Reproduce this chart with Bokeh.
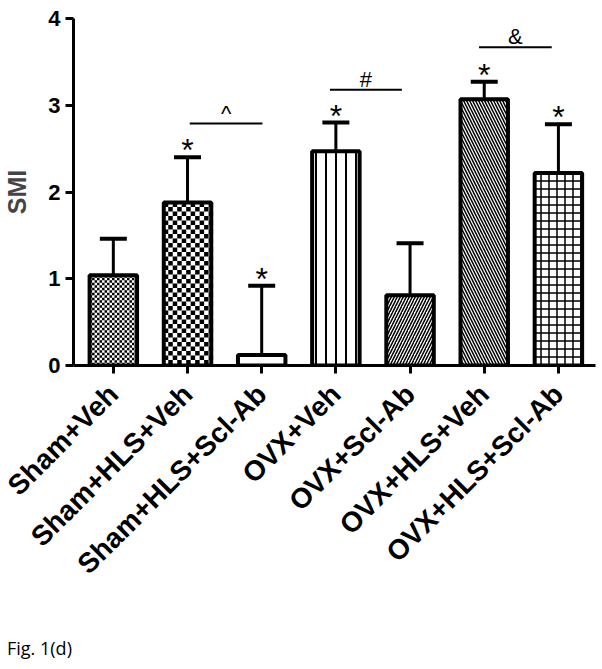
import math
from bokeh.plotting import figure
from bokeh.layouts import column
from bokeh.models import (ColumnDataSource, Range1d, FixedTicker, Whisker, TeeHead, Div)
from bokeh.core.properties import value
from bokeh.embed import file_html
from bokeh.resources import INLINE

# ---- data ----
groups = ["Sham+Veh", "Sham+HLS+Veh", "Sham+HLS+Scl-Ab", "OVX+Veh",
          "OVX+Scl-Ab", "OVX+HLS+Veh", "OVX+HLS+Scl-Ab"]
smi_mean = [1.04, 1.88, 0.12, 2.47, 0.81, 3.07, 2.22]
smi_sd = [0.42, 0.52, 0.80, 0.33, 0.60, 0.20, 0.56]
star_groups = [2, 3, 4, 6, 7]          # bars marked with *
bracket_from = [2.03, 3.92, 5.93]
bracket_to = [3.01, 4.89, 6.91]
bracket_y = [2.79, 3.18, 3.67]
bracket_text = ["^", "#", "&"]
y_ticks = [0, 1, 2, 3, 4]

# ---- styles ----
patterns = ["blank", "blank", "blank", "vertical_line", "right_diagonal_line",
            "left_diagonal_line", "cross"]
pattern_scale = [8, 8, 8, 10, 6, 6, 8]
pattern_weight = [1, 1, 1, 2, 1.5, 1.5, 1.5]
checker_cell = {1: 2.5, 2: 4.5}        # checkerboard fills (cell size in px)
STAR_GAP = 0.08                         # data units above the error cap
LABEL_GAP = 0.12                        # data units above bracket line

FONT = "Liberation Sans"
W, H = 600, 638
BL, BR, BT, BB = 71, 5, 18, 273
X0, X1, Y0, Y1 = 0.463, 7.5, 0, 4
BAR_W = 0.64

xs = list(range(1, len(groups) + 1))
src = ColumnDataSource(dict(
    x=xs, mean=smi_mean, upper=[m + s for m, s in zip(smi_mean, smi_sd)],
    pattern=patterns, hscale=pattern_scale, hweight=pattern_weight))

p = figure(width=W, height=H, x_range=Range1d(X0, X1), y_range=Range1d(Y0, Y1),
           output_backend="svg", toolbar_location=None,
           min_border_left=BL, min_border_right=BR, min_border_top=BT, min_border_bottom=BB)
p.outline_line_color = None
p.xgrid.visible = False
p.ygrid.visible = False
p.background_fill_color = "white"
p.border_fill_color = "white"

# bar fills (white + hatch)
p.vbar(x="x", top="mean", width=BAR_W, source=src, fill_color="white", line_color=None,
       hatch_pattern="pattern", hatch_scale="hscale", hatch_weight="hweight",
       hatch_color="black")

# checkerboard fills, laid out in screen pixels inside the bars
px_x = (W - BL - BR) / (X1 - X0)
px_y = (H - BT - BB) / (Y1 - Y0)
cx, cy, cs = [], [], []
for g, c in checker_cell.items():
    xc = xs[g - 1]
    left = xc - BAR_W / 2
    wpx = BAR_W * px_x
    hpx = smi_mean[g - 1] * px_y
    nx = int(wpx // c) + 1
    ny = int(hpx // c) + 1
    for j in range(ny):
        for i in range(nx):
            if (i + j) % 2:
                continue
            if (i + 0.5) * c > wpx or (j + 0.5) * c > hpx:
                continue
            cx.append(left + (i + 0.5) * c / px_x)
            cy.append(smi_mean[g - 1] - (j + 0.5) * c / px_y)
            cs.append(c)
p.scatter(x=cx, y=cy, size=cs, marker="square", fill_color="black", line_color=None)

# bar outlines on top
p.vbar(x="x", top="mean", width=BAR_W, source=src, fill_color=None,
       line_color="black", line_width=4)

whisk = Whisker(base="x", lower="mean", upper="upper", source=src, dimension="height",
                line_width=3, line_color="black", lower_head=None,
                upper_head=TeeHead(size=27, line_width=4, line_color="black"))
p.add_layout(whisk)

# asterisks
sx = [xs[g - 1] for g in star_groups]
sy = [smi_mean[g - 1] + smi_sd[g - 1] + STAR_GAP for g in star_groups]
p.text(x=sx, y=sy, text=["*"] * len(sx), text_font=value(FONT), text_font_size="32px",
       text_align="center", text_baseline="middle", text_color="black")

# brackets
p.segment(x0=bracket_from, y0=bracket_y, x1=bracket_to, y1=bracket_y,
          line_width=2, line_color="black")
bx = [(a + b) / 2 for a, b in zip(bracket_from, bracket_to)]
by = [y + LABEL_GAP for y in bracket_y]
p.text(x=bx, y=by, text=bracket_text, text_font=value(FONT), text_font_size="22px",
       text_align="center", text_baseline="alphabetic", text_color="black")

# axes
for ax in (p.xaxis[0], p.yaxis[0]):
    ax.axis_line_width = 3
    ax.axis_line_color = "black"
    ax.major_tick_line_width = 3
    ax.major_tick_line_color = "black"
    ax.major_tick_out = 8
    ax.major_tick_in = 0
    ax.minor_tick_line_color = None
    ax.major_label_text_font = FONT
    ax.major_label_text_font_style = "bold"
    ax.major_label_text_color = "black"

p.yaxis.ticker = FixedTicker(ticks=y_ticks)
p.yaxis.major_label_text_font_size = "22px"
p.yaxis.major_label_standoff = 5
p.yaxis.axis_label = "SMI"
p.yaxis.axis_label_text_font = FONT
p.yaxis.axis_label_text_font_style = "bold"
p.yaxis.axis_label_text_font_size = "25px"
p.yaxis.axis_label_standoff = 14

p.xaxis.ticker = FixedTicker(ticks=xs)
p.xaxis.major_label_overrides = {x: g for x, g in zip(xs, groups)}
p.xaxis.major_label_orientation = math.pi / 4
p.xaxis.major_label_text_font_size = "28px"
p.xaxis.major_label_standoff = 16

caption = Div(text="Fig. 1(d)", width=300, height=31, margin=(0, 0, 0, 7),
              styles={"font-family": "Open Sans", "font-size": "18px",
                      "line-height": "20px", "color": "black"})

layout = column(p, caption, spacing=0)
open("out.html", "w").write(file_html(layout, INLINE))
